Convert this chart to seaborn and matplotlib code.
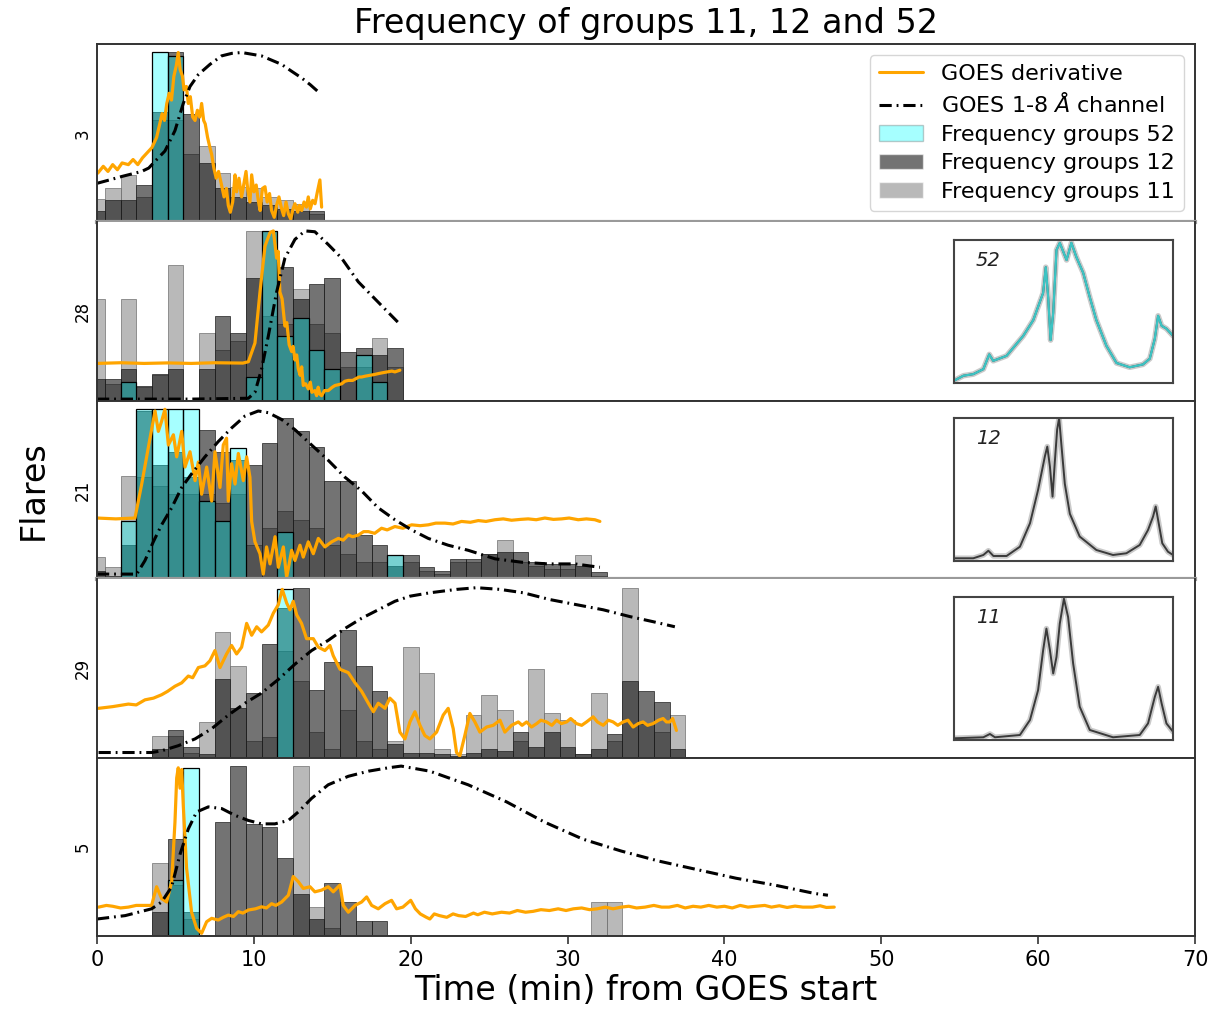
import numpy as np
import matplotlib
matplotlib.use("Agg")
import matplotlib.pyplot as plt
import seaborn as sns
from matplotlib.patches import Patch
from matplotlib.lines import Line2D

sns.set_theme(style="white")
plt.rcParams["font.family"] = ["DejaVu Sans"]
plt.rcParams["mathtext.fontset"] = "dejavusans"
plt.rcParams["text.color"] = "black"
plt.rcParams["axes.labelcolor"] = "black"
plt.rcParams["xtick.color"] = "black"

# ---------------------------------------------------------------- data
flare_ids = ["3", "28", "21", "29", "5"]
inset_groups = [None, "52", "12", "11", None]

# first 1-minute bin of each panel's histogram
bin_start = [0, 0, 0, 4, 4]

# normalised frequencies of groups 11, 12 and 52 (one value per 1-min bin)
p1_g11 = [0.14, 0.20, 0.28, 0.15, 0.60, 0.60, 0.40, 0.45, 0.29, 0.21, 0.20, 0.15, 0.13, 0.11, 0.05]
p1_g12 = [0.07, 0.13, 0.13, 0.22, 0.65, 1.00, 0.64, 0.35, 0.20, 0.15, 0.12, 0.10, 0.08, 0.07, 0.07]
p1_g52 = [0.00, 0.00, 0.00, 0.00, 1.00, 0.98, 0.00, 0.00, 0.00, 0.00, 0.00, 0.00, 0.00, 0.00, 0.00]

p2_g11 = [0.60, 0.10, 0.60, 0.08, 0.15, 0.80, 0.00, 0.40, 0.30, 0.35, 1.00, 0.50, 0.45, 0.66, 0.45,
          0.40, 0.20, 0.20, 0.37, 0.20]
p2_g12 = [0.13, 0.13, 0.19, 0.09, 0.16, 0.19, 0.00, 0.19, 0.50, 0.40, 0.72, 1.00, 0.79, 0.60, 0.69,
          0.72, 0.29, 0.31, 0.27, 0.31]
p2_g52 = [0.00, 0.00, 0.11, 0.00, 0.00, 0.00, 0.00, 0.00, 0.00, 0.00, 0.14, 1.00, 0.38, 0.49, 0.30,
          0.19, 0.00, 0.27, 0.11, 0.00]

p3_g11 = [0.13, 0.07, 0.61, 0.60, 0.55, 0.50, 0.50, 0.50, 0.45, 0.50, 0.20, 0.30, 0.40, 0.35, 0.30,
          0.20, 0.15, 0.10, 0.10, 0.14, 0.10, 0.05, 0.03, 0.10, 0.10, 0.15, 0.23, 0.10, 0.08, 0.06,
          0.06, 0.14, 0.02]
p3_g12 = [0.05, 0.02, 0.20, 0.99, 0.67, 0.75, 0.60, 0.88, 0.75, 0.70, 0.67, 0.80, 0.95, 0.87, 0.78,
          0.58, 0.58, 0.26, 0.20, 0.08, 0.14, 0.07, 0.05, 0.12, 0.12, 0.15, 0.16, 0.16, 0.10, 0.09,
          0.09, 0.08, 0.04]
p3_g52 = [0.00, 0.00, 0.34, 1.00, 1.00, 1.00, 1.00, 0.46, 0.34, 0.77, 0.00, 0.00, 0.28, 0.00, 0.00,
          0.00, 0.00, 0.00, 0.00, 0.14, 0.00, 0.00, 0.00, 0.00, 0.00, 0.00, 0.00, 0.00, 0.00, 0.00,
          0.00, 0.00, 0.00]

p4_g11 = [0.13, 0.13, 0.03, 0.21, 0.74, 0.54, 0.10, 0.12, 0.63, 0.45, 0.15, 0.05, 0.28, 0.10, 0.05,
          0.10, 0.65, 0.50, 0.05, 0.02, 0.25, 0.37, 0.28, 0.10, 0.52, 0.26, 0.22, 0.02, 0.38, 0.10,
          1.00, 0.20, 0.15, 0.25]
p4_g12 = [0.05, 0.16, 0.06, 0.02, 0.46, 0.29, 0.38, 0.67, 0.88, 1.00, 0.40, 0.56, 0.75, 0.54, 0.39,
          0.08, 0.03, 0.03, 0.02, 0.01, 0.03, 0.05, 0.04, 0.15, 0.06, 0.15, 0.06, 0.02, 0.05, 0.14,
          0.45, 0.39, 0.33, 0.05]
p4_g52 = [0.00, 0.00, 0.00, 0.00, 0.00, 0.00, 0.00, 0.00, 0.99, 0.00, 0.00, 0.00, 0.00, 0.00, 0.00,
          0.00, 0.00, 0.00, 0.00, 0.00, 0.00, 0.00, 0.00, 0.00, 0.00, 0.00, 0.00, 0.00, 0.00, 0.00,
          0.00, 0.00, 0.00, 0.00]

p5_g11 = [0.43, 0.30, 0.10, 0.00, 0.00, 0.00, 0.00, 0.00, 0.00, 1.00, 0.17, 0.05, 0.00, 0.00, 0.00,
          0.00, 0.00, 0.00, 0.00, 0.00, 0.00, 0.00, 0.00, 0.00, 0.00, 0.00, 0.00, 0.00, 0.20, 0.20]
p5_g12 = [0.14, 0.57, 0.14, 0.00, 0.67, 1.00, 0.66, 0.64, 0.46, 0.25, 0.10, 0.31, 0.20, 0.09, 0.09,
          0.00, 0.00, 0.00, 0.00, 0.00, 0.00, 0.00, 0.00, 0.00, 0.00, 0.00, 0.00, 0.00, 0.00, 0.00]
p5_g52 = [0.00, 0.33, 0.99, 0.00, 0.00, 0.00, 0.00, 0.00, 0.00, 0.00, 0.00, 0.00, 0.00, 0.00, 0.00,
          0.00, 0.00, 0.00, 0.00, 0.00, 0.00, 0.00, 0.00, 0.00, 0.00, 0.00, 0.00, 0.00, 0.00, 0.00]

# GOES derivative (normalised), (minute, value)
p1_deriv = [(0.05, .29), (0.4, .33), (0.7, .30), (1.0, .34), (1.3, .31), (1.6, .35), (2.0, .34),
            (2.3, .37), (2.6, .34), (2.9, .38), (3.2, .41), (3.5, .44), (3.8, .50), (4.0, .58),
            (4.15, .64), (4.3, .60), (4.45, .70), (4.6, .76), (4.75, .72), (4.9, .86), (5.05, .92),
            (5.18, 1.0), (5.3, .90), (5.45, .86), (5.55, .78), (5.7, .80), (5.82, .70), (5.95, .74),
            (6.1, .62), (6.25, .60), (6.4, .66), (6.55, .62), (6.67, .70), (6.8, .60), (6.9, .58),
            (7.05, .50), (7.2, .44), (7.31, .40), (7.45, .32), (7.6, .26), (7.75, .30), (7.94, .22),
            (8.1, .15), (8.25, .20), (8.37, .10), (8.5, .06), (8.65, .12), (8.8, .28), (8.9, .18),
            (9.05, .26), (9.22, .15), (9.35, .22), (9.5, .30), (9.6, .20), (9.75, .12), (9.86, .28),
            (10.0, .18), (10.15, .22), (10.28, .13), (10.4, .07), (10.55, .20), (10.71, .21),
            (10.85, .12), (11.0, .17), (11.13, .07), (11.3, .03), (11.45, .10), (11.6, .15),
            (11.77, .08), (11.9, .04), (12.05, .12), (12.2, .05), (12.35, .02), (12.5, .08),
            (12.62, .11), (12.8, .06), (12.9, .10), (13.05, .07), (13.2, .12), (13.35, .09),
            (13.47, .15), (13.6, .08), (13.75, .13), (13.9, .11), (14.05, .18), (14.21, .25),
            (14.32, .09)]
p2_deriv = [(0.0, .22), (1.5, .224), (3.0, .22), (4.5, .223), (6.0, .22), (7.5, .224), (9.3, .222),
            (9.65, .23), (10.07, .34), (10.39, .64), (10.71, .91), (11.03, .99), (11.24, 1.0),
            (11.35, .92), (11.45, .84), (11.55, .88), (11.66, .64), (11.8, .60), (11.98, .44),
            (12.1, .46), (12.25, .33), (12.41, .29), (12.5, .32), (12.62, .24), (12.73, .27),
            (12.83, .19), (12.95, .15), (13.05, .20), (13.15, .09), (13.3, .10), (13.47, .07),
            (13.6, .11), (13.7, .05), (13.89, .06), (14.0, .03), (14.1, .08), (14.2, .04),
            (14.32, .03), (14.5, .06), (14.74, .06), (15.0, .08), (15.17, .09), (15.4, .095),
            (15.6, .10), (15.8, .115), (16.02, .12), (16.3, .12), (16.5, .13), (16.7, .14),
            (16.87, .14), (17.1, .145), (17.4, .15), (17.7, .155), (17.93, .16), (18.2, .165),
            (18.5, .17), (18.8, .175), (18.99, .17), (19.31, .18)]
p3_deriv = [(0.0, .36), (1.2, .355), (2.42, .36), (2.85, .56), (3.38, .83), (3.7, .99), (3.91, .87),
            (4.12, .93), (4.33, 1.0), (4.55, .79), (4.87, .85), (5.08, .72), (5.4, .87), (5.61, .66),
            (5.93, .75), (6.25, .58), (6.46, .69), (6.67, .50), (6.99, .66), (7.31, .46), (7.52, .75),
            (7.84, .54), (8.05, .79), (8.26, .83), (8.37, .46), (8.58, .68), (8.8, .56), (9.01, .74),
            (9.33, .58), (9.54, .72), (9.75, .60), (9.86, .34), (10.07, .22), (10.39, .15),
            (10.6, .03), (10.81, .19), (11.03, .09), (11.35, .25), (11.56, .07), (11.88, .19),
            (12.09, .01), (12.41, .17), (12.62, .11), (12.94, .20), (13.15, .13), (13.47, .22),
            (13.79, .15), (14.11, .24), (14.53, .19), (14.96, .22), (15.38, .24), (15.7, .23),
            (16.02, .26), (16.3, .25), (16.66, .26), (17.0, .28), (17.3, .28), (17.7, .27),
            (18.14, .30), (18.5, .29), (18.99, .31), (19.5, .30), (20.06, .32), (20.6, .315),
            (21.12, .32), (21.6, .33), (22.18, .33), (22.7, .325), (23.24, .34), (23.8, .335),
            (24.31, .345), (24.8, .34), (25.37, .35), (25.9, .355), (26.43, .347), (27.0, .352),
            (27.49, .355), (28.0, .35), (28.55, .36), (29.1, .352), (29.62, .355), (30.1, .36),
            (30.68, .35), (31.2, .355), (31.74, .35), (32.06, .34)]
p4_deriv = [(0.1, .29), (1.0, .30), (2.0, .315), (2.5, .31), (3.06, .34), (3.6, .35), (4.12, .37),
            (4.5, .39), (4.97, .42), (5.4, .44), (5.82, .48), (6.1, .47), (6.46, .53), (6.88, .54),
            (7.2, .57), (7.52, .63), (7.84, .53), (8.26, .61), (8.58, .66), (8.9, .61), (9.22, .65),
            (9.54, .79), (9.86, .72), (10.18, .77), (10.49, .74), (10.92, .78), (11.24, .85),
            (11.56, .90), (11.81, .99), (12.09, .91), (12.3, .87), (12.51, .92), (12.73, .84),
            (13.04, .79), (13.36, .70), (13.79, .70), (14.11, .65), (14.53, .63), (14.85, .66),
            (15.06, .60), (15.49, .52), (16.02, .50), (16.45, .44), (16.87, .39), (17.3, .32),
            (17.62, .27), (17.93, .32), (18.36, .29), (18.67, .35), (19.0, .32), (19.31, .15),
            (19.63, .11), (19.95, .21), (20.27, .27), (20.59, .19), (20.9, .13), (21.22, .11),
            (21.65, .15), (22.07, .25), (22.39, .29), (22.71, .17), (22.92, .03), (23.13, .01),
            (23.45, .13), (23.77, .26), (24.09, .21), (24.41, .15), (24.84, .18), (25.26, .19),
            (25.69, .22), (26.0, .15), (26.43, .19), (26.86, .21), (27.1, .19), (27.39, .21),
            (27.7, .18), (28.03, .20), (28.3, .22), (28.66, .21), (29.0, .19), (29.3, .22),
            (29.6, .20), (29.94, .21), (30.2, .23), (30.57, .20), (30.9, .19), (31.21, .21),
            (31.63, .24), (31.9, .21), (32.27, .19), (32.6, .22), (32.9, .21), (33.2, .19),
            (33.54, .21), (33.85, .22), (34.18, .18), (34.5, .20), (34.81, .21), (35.1, .19),
            (35.45, .20), (35.8, .22), (36.09, .23), (36.3, .21), (36.52, .21), (36.7, .23),
            (36.94, .16)]
p5_deriv = [(0.1, .17), (0.6, .18), (1.0, .175), (1.5, .165), (2.0, .17), (2.5, .18), (3.0, .18),
            (3.48, .18), (3.8, .29), (4.12, .22), (4.44, .20), (4.76, .32), (4.97, .67), (5.08, .93),
            (5.18, .99), (5.29, .87), (5.4, .98), (5.5, .77), (5.71, .40), (6.03, .14), (6.35, .045),
            (6.67, .016), (6.99, .084), (7.31, .104), (7.73, .094), (8.05, .11), (8.37, .123),
            (8.7, .115), (9.01, .143), (9.3, .135), (9.65, .153), (10.1, .16), (10.49, .172),
            (10.8, .165), (11.13, .19), (11.4, .18), (11.77, .20), (12.2, .24), (12.51, .35),
            (12.83, .32), (13.15, .28), (13.58, .29), (13.89, .26), (14.32, .27), (14.74, .29),
            (15.06, .26), (15.49, .30), (15.7, .18), (16.02, .14), (16.45, .18), (16.87, .20),
            (17.19, .23), (17.51, .18), (17.93, .16), (18.36, .19), (18.78, .21), (19.1, .16),
            (19.5, .17), (20.0, .21), (20.3, .16), (20.61, .13), (21.0, .11), (21.22, .10),
            (21.5, .13), (21.83, .12), (22.3, .11), (22.7, .13), (23.05, .12), (23.5, .115),
            (24.0, .135), (24.27, .125), (24.7, .14), (25.2, .13), (25.79, .14), (26.3, .135),
            (26.8, .15), (27.32, .14), (27.8, .145), (28.3, .155), (28.84, .15), (29.4, .16),
            (29.9, .15), (30.37, .16), (30.9, .165), (31.4, .155), (31.89, .16), (32.4, .17),
            (32.9, .16), (33.42, .17), (33.9, .175), (34.4, .165), (34.94, .17), (35.5, .18),
            (36.0, .17), (36.47, .17), (37.0, .18), (37.5, .165), (38.0, .175), (38.5, .17),
            (39.0, .18), (39.52, .17), (40.0, .175), (40.5, .165), (41.0, .18), (41.5, .17),
            (42.0, .175), (42.57, .18), (43.0, .17), (43.5, .178), (44.0, .168), (44.5, .176),
            (45.0, .17), (45.62, .17), (46.1, .178), (46.5, .168), (47.0, .17)]

# GOES 1-8 A flux (normalised), (minute, value)
p1_goes = [(0.0, .23), (0.8, .25), (1.57, .27), (2.85, .30), (3.3, .32), (3.7, .36), (4.33, .42),
           (4.97, .54), (5.5, .70), (5.93, .80), (6.46, .87), (7.2, .93), (7.94, .98), (8.6, .995),
           (9.22, 1.0), (10.49, .98), (11.77, .93), (12.4, .89), (13.05, .85), (13.6, .81),
           (14.21, .76)]
p2_goes = [(0.0, .01), (3.0, .01), (6.0, .01), (9.65, .015), (10.07, .05), (10.5, .19), (10.92, .38),
           (11.45, .64), (11.98, .84), (12.62, .95), (13.26, 1.0), (13.89, .995), (14.74, .92),
           (15.59, .84), (16.66, .70), (17.72, .60), (18.57, .52), (19.21, .46)]
p3_goes = [(0.0, .03), (1.5, .03), (2.53, .03), (3.06, .11), (3.59, .22), (4.12, .32), (4.76, .42),
           (5.4, .54), (6.03, .62), (6.88, .72), (7.73, .81), (8.58, .89), (9.43, .96), (10.28, .99),
           (10.92, .98), (11.77, .94), (12.62, .88), (13.68, .79), (14.74, .70), (15.81, .60),
           (16.87, .52), (17.93, .42), (18.99, .35), (20.06, .29), (21.12, .24), (22.39, .20),
           (23.67, .17), (25.37, .12), (27.07, .10), (28.77, .09), (30.47, .09), (32.06, .07)]
p4_goes = [(0.1, .03), (2.0, .03), (3.48, .03), (4.12, .04), (5.18, .07), (6.25, .11), (7.31, .17),
           (8.37, .25), (9.43, .32), (10.49, .38), (11.56, .46), (12.62, .55), (13.68, .63),
           (14.74, .69), (15.81, .76), (16.87, .82), (17.93, .87), (18.99, .92), (19.95, .95),
           (21.22, .97), (22.92, .99), (24.2, 1.0), (25.69, .99), (27.18, .97), (28.88, .93),
           (30.57, .90), (32.27, .87), (33.97, .83), (35.45, .80), (36.84, .77)]
p5_goes = [(0.0, .10), (1.8, .12), (3.48, .16), (4.12, .20), (4.76, .29), (5.29, .48), (5.82, .63),
           (6.35, .73), (7.1, .76), (7.95, .75), (8.8, .71), (9.65, .68), (10.49, .66), (11.34, .66),
           (12.2, .68), (12.83, .73), (13.68, .81), (14.74, .89), (16.02, .94), (17.3, .97),
           (18.57, .99), (19.39, 1.0), (21.22, .97), (23.66, .89), (26.1, .79), (28.54, .67),
           (30.98, .57), (33.42, .50), (35.86, .44), (38.3, .39), (40.74, .34), (43.18, .30),
           (45.77, .25), (46.6, .24)]

# mean spectral profiles of each frequency group, (relative wavelength, intensity)
spec_52 = [(0.0, .016), (0.043, .051), (0.088, .062), (0.134, .097), (0.161, .20), (0.179, .155),
           (0.24, .19), (0.316, .329), (0.362, .44), (0.407, .63), (0.419, .81), (0.43, .60),
           (0.441, .30), (0.453, .49), (0.468, .93), (0.483, .98), (0.514, .86), (0.536, .98),
           (0.559, .88), (0.59, .77), (0.62, .60), (0.65, .44), (0.696, .26), (0.742, .14),
           (0.802, .11), (0.863, .13), (0.894, .17), (0.917, .31), (0.932, .47), (0.948, .40),
           (0.97, .38), (1.0, .33)]
spec_12 = [(0.0, .019), (0.088, .019), (0.134, .042), (0.157, .072), (0.18, .035), (0.24, .035),
           (0.301, .10), (0.347, .264), (0.384, .498), (0.415, .732), (0.426, .80), (0.438, .66),
           (0.45, .45), (0.46, .685), (0.471, .92), (0.48, 1.0), (0.49, .82), (0.506, .54),
           (0.529, .33), (0.574, .171), (0.65, .077), (0.726, .042), (0.787, .054), (0.848, .112),
           (0.886, .217), (0.909, .311), (0.921, .381), (0.932, .287), (0.951, .124), (0.977, .065),
           (1.0, .042)]
spec_11 = [(0.0, .012), (0.134, .019), (0.164, .042), (0.187, .019), (0.301, .035), (0.347, .14),
           (0.384, .349), (0.407, .628), (0.422, .779), (0.438, .628), (0.453, .465), (0.468, .581),
           (0.483, .814), (0.502, .988), (0.521, .86), (0.544, .535), (0.574, .233), (0.62, .07),
           (0.726, .019), (0.848, .035), (0.886, .116), (0.917, .302), (0.932, .372), (0.948, .256),
           (0.97, .116), (1.0, .058)]

# ---------------------------------------------------------------- styling
ORANGE = "#FFA500"
CYAN = "#00FFFF"
DASHDOT = (0, (4.0, 1.6, 0.6, 1.6))
G11_KW = dict(color="#808080", alpha=0.55, edgecolor="#707070", linewidth=0.5)
G12_KW = dict(color="#000000", alpha=0.55, edgecolor="#202020", linewidth=0.5)
G52_KW = dict(color=CYAN, alpha=0.35, edgecolor="#000000", linewidth=0.9)

g11_all = [p1_g11, p2_g11, p3_g11, p4_g11, p5_g11]
g12_all = [p1_g12, p2_g12, p3_g12, p4_g12, p5_g12]
g52_all = [p1_g52, p2_g52, p3_g52, p4_g52, p5_g52]
deriv_all = [p1_deriv, p2_deriv, p3_deriv, p4_deriv, p5_deriv]
goes_all = [p1_goes, p2_goes, p3_goes, p4_goes, p5_goes]
spectra = {"52": spec_52, "12": spec_12, "11": spec_11}

W, H = 1227, 1010
fig, axes = plt.subplots(5, 1, figsize=(W / 100, H / 100), dpi=100, sharex=True)
fig.subplots_adjust(left=97 / W, right=1195 / W, top=1 - 44 / H, bottom=1 - 936 / H, hspace=0)


def draw_hist(ax, start, vals, kw):
    bins = np.arange(start, start + len(vals))
    sns.histplot(x=bins, weights=vals, discrete=True, element="bars", fill=True, ax=ax, **kw)


for i, ax in enumerate(axes):
    start = bin_start[i]
    draw_hist(ax, start, g11_all[i], G11_KW)
    draw_hist(ax, start, g12_all[i], G12_KW)
    draw_hist(ax, start, g52_all[i], G52_KW)

    t, v = np.array(deriv_all[i]).T
    sns.lineplot(x=t, y=v, ax=ax, color=ORANGE, linewidth=2.3, sort=False, estimator=None)
    t, v = np.array(goes_all[i]).T
    sns.lineplot(x=t, y=v, ax=ax, color="black", linewidth=2.2, linestyle=DASHDOT,
                 sort=False, estimator=None)

    ax.set_xlim(0, 70)
    ax.set_ylim(0, 1.05)
    ax.set_yticks([])
    ax.set_ylabel(flare_ids[i], fontsize=12, labelpad=4)
    for side in ["top", "bottom", "left", "right"]:
        ax.spines[side].set_color("#333333")
        ax.spines[side].set_linewidth(1.4)

# lighter separators below the first and third panels
for i in (0, 2):
    axes[i].spines["bottom"].set_color("#9a9a9a")
    axes[i].spines["bottom"].set_linewidth(3)
    axes[i + 1].spines["top"].set_visible(False)

bottom = axes[-1]
bottom.set_xticks(range(0, 71, 10))
bottom.tick_params(axis="x", bottom=True, length=6, width=1.2, color="#333333",
                   labelsize=15, pad=4)
bottom.set_xlabel("Time (min) from GOES start", fontsize=24, labelpad=3)
for ax in axes[:-1]:
    ax.tick_params(axis="x", bottom=False, labelbottom=False)
    ax.set_xlabel("")

fig.text(33 / W, 1 - 490 / H, "Flares", rotation=90, ha="center", va="center", fontsize=24)
fig.text((97 + 1195) / 2 / W, 1 - 23 / H, "Frequency of groups 11, 12 and 52",
         ha="center", va="center", fontsize=24)

handles = [
    Line2D([], [], color=ORANGE, linewidth=2.2),
    Line2D([], [], color="black", linewidth=2.2, linestyle=DASHDOT),
    Patch(facecolor=CYAN, alpha=0.35, edgecolor="#666666"),
    Patch(facecolor="#000000", alpha=0.55),
    Patch(facecolor="#808080", alpha=0.55),
]
labels = ["GOES derivative", r"GOES 1-8 $\AA$ channel", "Frequency groups 52",
          "Frequency groups 12", "Frequency groups 11"]
axes[0].legend(handles, labels, loc="upper right", fontsize=16, labelspacing=0.38,
               handlelength=2.0, borderpad=0.4, frameon=True, framealpha=0.8,
               edgecolor="0.8", fancybox=True)

# spectral profile insets
inset_top = {1: 240, 2: 418, 3: 597}
for i, grp in enumerate(inset_groups):
    if grp is None:
        continue
    top = inset_top[i]
    ins = fig.add_axes([954 / W, 1 - (top + 143) / H, 219 / W, 143 / H])
    x, y = np.array(spectra[grp]).T
    sns.lineplot(x=x, y=y, ax=ins, color="#8a8a8a", linewidth=4, alpha=0.45,
                 sort=False, estimator=None)
    sns.lineplot(x=x, y=y, ax=ins, color="#3a3a3a", linewidth=1.4, sort=False, estimator=None)
    if grp == "52":
        sns.lineplot(x=x, y=y, ax=ins, color="#3cc4c4", linewidth=1.6, sort=False,
                     estimator=None)
    ins.set_xlim(0, 1)
    ins.set_ylim(0, 1.0)
    ins.set_xticks([])
    ins.set_yticks([])
    ins.set_xlabel("")
    ins.set_ylabel("")
    for s in ins.spines.values():
        s.set_color("#444444")
        s.set_linewidth(1.5)
    ins.text(0.1, 0.86, grp, transform=ins.transAxes, fontsize=14, style="italic",
             ha="left", va="center", color="#222222")

fig.savefig("out.png", dpi=100)
